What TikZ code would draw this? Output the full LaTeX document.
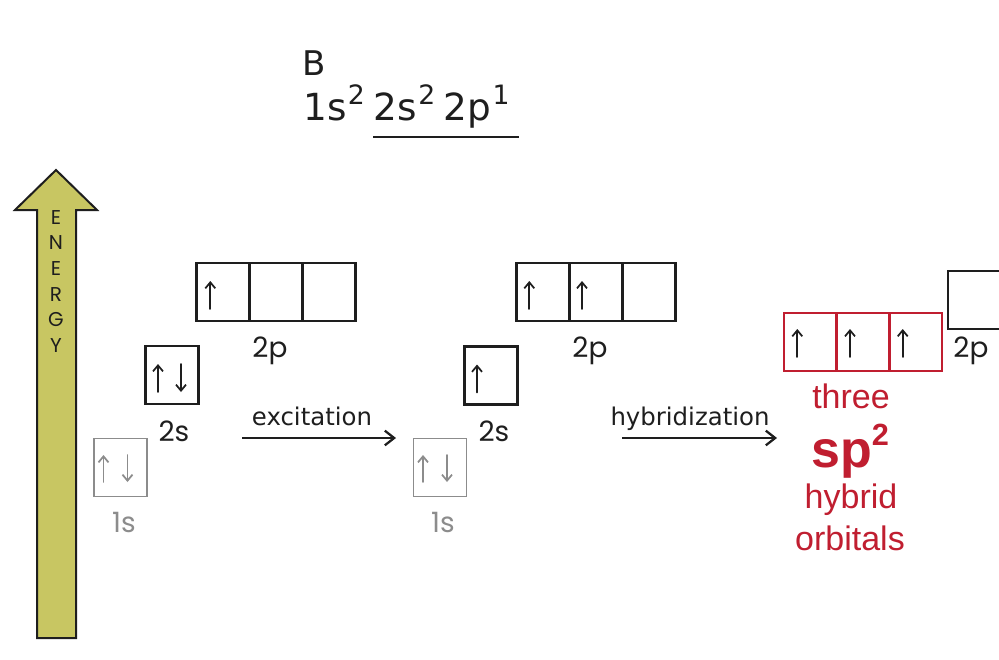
\documentclass[tikz,border=0pt]{standalone}
\usepackage{fontspec}
\setmainfont{Poppins}
\newfontfamily\stepfont{DejaVu Sans}
\newfontfamily\hybfont{Liberation Sans}
\usetikzlibrary{arrows.meta}

\definecolor{ink}{RGB}{30,30,30}
\definecolor{coregray}{RGB}{140,140,140}
\definecolor{hybred}{RGB}{192,30,48}
\definecolor{energyfill}{RGB}{200,198,98}

% raised superscript used in the electron configuration
\newcommand\cfgsup[1]{\kern0.04em\raisebox{0.42em}{\fontsize{20}{20}\selectfont #1}\kern0.22em}

\begin{document}
\begin{tikzpicture}[x=0.75pt,y=-0.75pt,
  orb/.style={draw=ink, line width=2pt, minimum width=39.75pt,
    minimum height=43.5pt, inner sep=0pt},
  core/.style={orb, draw=coregray, line width=1.4pt},
  hyb/.style={orb, draw=hybred, line width=1.6pt},
  spinline/.style={draw=ink, line width=1.4pt, line cap=round,
    -{Straight Barb[length=4.5pt,width=7.5pt,line width=1.3pt]}},
  corespin/.style={spinline, draw=coregray},
  spinup/.pic={\draw[spinline] (0,14) -- (0,-14);},
  spindown/.pic={\draw[spinline] (0,-14) -- (0,14);},
  coreup/.pic={\draw[corespin] (0,13.5) -- (0,-13.5);},
  coredown/.pic={\draw[corespin] (0,-13.5) -- (0,13.5);},
  lbl/.style={anchor=base, inner sep=0pt, font=\fontsize{21}{21}\selectfont, text=ink},
  corelbl/.style={lbl, text=coregray},
  steplbl/.style={anchor=base, inner sep=0pt, font=\stepfont\fontsize{18.3}{18.3}\selectfont, text=ink},
  redlbl/.style={anchor=base, inner sep=0pt, font=\hybfont\fontsize{25.5}{25.5}\selectfont, text=hybred},
  conv/.style={draw=ink, line width=1.7pt, -{Straight Barb[length=7pt,width=11pt,line width=1.7pt]}},
  energyarrow/.style={draw=ink, line width=1.5pt, fill=energyfill, line join=miter}
]
\useasboundingbox (0,0) rectangle (999,660);
\fill[white] (0,0) rectangle (999,660);

% element and ground-state configuration
\node[anchor=base west, inner sep=0pt, font=\stepfont\fontsize{25.5}{25.5}\selectfont, text=ink] (elem) at (302,75) {B};
\node[anchor=base west, inner sep=0pt, font=\stepfont\fontsize{28}{28}\selectfont, text=ink] (cfgA) at (303,120) {1s\cfgsup{2}};
\node[anchor=base west, inner sep=0pt, font=\stepfont\fontsize{28}{28}\selectfont, text=ink] (cfgB) at (cfgA.base east) {2s\cfgsup{2}2p\cfgsup{1}};
\draw[ink, line width=1.6pt] ([yshift=-12.75pt]cfgB.base west) -- ([yshift=-12.75pt,xshift=1pt]cfgB.base east);

% energy axis
\draw[energyarrow] (37,638) -- (37,210) -- (15,210) -- (56,170) -- (97,210) -- (76,210) -- (76,638) -- cycle;
\node[anchor=north, inner sep=0pt, align=center, text=ink,
  font=\fontsize{15}{19.2}\selectfont] (energy) at (56,210) {E\\N\\E\\R\\G\\Y};

% ground state
\node[core] (s1a) at (120.5,467.5) {};
\node[orb]  (s2a) at (172,375) {};
\node[orb]  (pxa) at (223.3,292) {};
\node[orb]  (pya) at (276,292) {};
\node[orb]  (pza) at (328.7,292) {};
\pic at ([shift={(-17,1)}]s1a.center) {coreup};
\pic at ([shift={(7,1)}]s1a.center) {coredown};
\pic at ([shift={(-14,3)}]s2a.center) {spinup};
\pic at ([shift={(9,3)}]s2a.center) {spindown};
\pic at ([shift={(-13,3)}]pxa.center) {spinup};
\node[corelbl] (l1sa) at (124,532) {1s};
\node[lbl] (l2sa) at (174,441) {2s};
\node[lbl] (l2pa) at (270,357) {2p};

% excitation step
\coordinate (exA) at (242,438);
\coordinate (exB) at (396,438);
\draw[conv] (exA) -- (exB);
\node[steplbl] (exlbl) at (312,425) {excitation};

% excited state
\node[core] (s1b) at (440,467.5) {};
\node[orb]  (s2b) at (491,375.5) {};
\node[orb]  (pxb) at (543.3,292) {};
\node[orb]  (pyb) at (596,292) {};
\node[orb]  (pzb) at (648.7,292) {};
\pic at ([shift={(-17,1)}]s1b.center) {coreup};
\pic at ([shift={(7,1)}]s1b.center) {coredown};
\pic at ([shift={(-14,3)}]s2b.center) {spinup};
\pic at ([shift={(-14,3)}]pxb.center) {spinup};
\pic at ([shift={(-14,3)}]pyb.center) {spinup};
\node[corelbl] (l1sb) at (443,532) {1s};
\node[lbl] (l2sb) at (494,441) {2s};
\node[lbl] (l2pb) at (590,357) {2p};

% hybridization step
\coordinate (hyA) at (622,438);
\coordinate (hyB) at (777,438);
\draw[conv] (hyA) -- (hyB);
\node[steplbl] (hylbl) at (690,425) {hybridization};

% sp2 hybrid orbitals and the remaining 2p orbital
\node[hyb] (h1) at (810.3,342) {};
\node[hyb] (h2) at (863,342) {};
\node[hyb] (h3) at (915.7,342) {};
\pic at ([shift={(-13,1)}]h1.center) {spinup};
\pic at ([shift={(-13,1)}]h2.center) {spinup};
\pic at ([shift={(-13,1)}]h3.center) {spinup};
\node[orb] (pzc) at (974.5,300) {};
\node[lbl] (l2pc) at (971,357) {2p};

\node[redlbl] (three) at (851,408) {three};
\node[redlbl, font=\hybfont\bfseries\fontsize{39}{39}\selectfont] (sptwo) at (850,467) {sp\raisebox{0.42em}{\fontsize{23}{23}\selectfont 2}};
\node[redlbl] (hybrid) at (851,508) {hybrid};
\node[redlbl] (orbitals) at (850,550) {orbitals};
\end{tikzpicture}
\end{document}
